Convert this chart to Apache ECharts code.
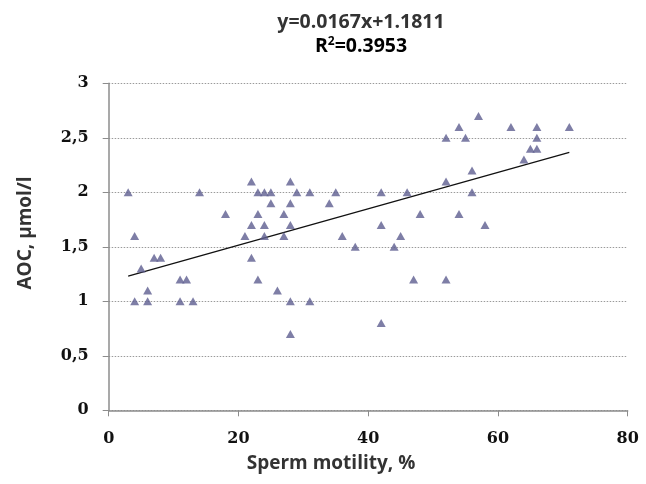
<!DOCTYPE html>
<html>
<head>
<meta charset="utf-8">
<script src="https://cdn.jsdelivr.net/npm/echarts@6/dist/echarts.min.js"></script>
<style>html,body{margin:0;padding:0;background:#fff}#c{width:646px;height:484px}</style>
</head>
<body>
<div id="c"></div>
<script>
// Sperm motility (%) values of each point
const motility = [3,4,4,5,6,6,7,8,11,12,11,13,14,18,21,22,22,22,23,23,23,24,24,24,25,25,26,27,27,28,28,28,28,28,29,31,31,34,35,36,38,42,42,42,44,45,46,47,48,52,52,52,54,54,55,56,56,57,58,62,64,65,66,66,66,71];
// AOC (µmol/l) values of each point
const aoc = [2,1.6,1,1.3,1.1,1,1.4,1.4,1.2,1.2,1,1,2,1.8,1.6,2.1,1.7,1.4,2,1.8,1.2,2,1.7,1.6,2,1.9,1.1,1.8,1.6,2.1,1.9,1.7,1,0.7,2,2,1,1.9,2,1.6,1.5,2,1.7,0.8,1.5,1.6,2,1.2,1.8,2.5,2.1,1.2,2.6,1.8,2.5,2.2,2,2.7,1.7,2.6,2.3,2.4,2.6,2.5,2.4,2.6];
// Linear trend line endpoints (y = 0.0167x + 1.1811)
const trendX = [3, 71];
const trendY = [1.2312, 2.3668];
const xTicks = [0, 20, 40, 60, 80];
const yTicks = [0, 0.5, 1, 1.5, 2, 2.5, 3];

const points = motility.map((x, i) => [x, aoc[i]]);
const trend = trendX.map((x, i) => [x, trendY[i]]);

const chart = echarts.init(document.getElementById('c'));
const tickFont = {fontFamily: 'DejaVu Serif', fontWeight: 'bold', fontSize: 16, color: '#111'};
chart.setOption({
  animation: false,
  backgroundColor: '#fff',
  grid: {left: 108.7, right: 18.3, top: 83.3, bottom: 73.7, containLabel: false},
  xAxis: {
    type: 'value', min: xTicks[0], max: xTicks[xTicks.length - 1], interval: 20,
    axisLine: {show: true, lineStyle: {color: '#8c8c8c', width: 1.5}},
    axisTick: {show: true, inside: false, length: 6, lineStyle: {color: '#8c8c8c'}},
    axisLabel: Object.assign({margin: 21}, tickFont),
    splitLine: {show: false}
  },
  yAxis: {
    type: 'value', min: yTicks[0], max: yTicks[yTicks.length - 1], interval: 0.5,
    axisLine: {show: true, lineStyle: {color: '#8c8c8c', width: 1.5}},
    axisTick: {show: true, inside: false, length: 6, lineStyle: {color: '#8c8c8c'}},
    axisLabel: Object.assign({margin: 20, formatter: v => String(v).replace('.', ',')}, tickFont),
    splitLine: {show: true, lineStyle: {color: '#9a9a9a', type: [1.5, 1.5], width: 1}}
  },
  series: [
    {type: 'scatter', data: points, symbol: 'triangle', symbolSize: [9, 8],
     itemStyle: {color: '#5e5e90'}, z: 3},
    {type: 'line', data: trend, symbol: 'none', lineStyle: {color: '#111', width: 1.3}, z: 2}
  ],
  graphic: [
    {type: 'text', x: 361, y: 22, style: {text: 'y=0.0167x+1.1811', textAlign: 'center', textVerticalAlign: 'middle',
      font: 'bold 19.5px "Open Sans"', fill: '#333'}},
    {type: 'text', x: 361, y: 46, style: {
      rich: {a: {font: 'bold 19.5px "Open Sans"', color: '#333'}, s: {font: 'bold 12px "Open Sans"', color: '#333', verticalAlign: 'top', padding: [0,0,8,0]}},
      text: '{a|R}{s|2}{a|=0.3953}', textAlign: 'center', textVerticalAlign: 'middle'}},
    {type: 'text', x: 331, y: 464, style: {text: 'Sperm motility, %', textAlign: 'center', textVerticalAlign: 'middle',
      font: 'bold 19px "Open Sans"', fill: '#333'}},
    {type: 'text', x: 26, y: 233, rotation: Math.PI / 2, style: {text: 'AOC, µmol/l', textAlign: 'center', textVerticalAlign: 'middle',
      font: 'bold 19px "Open Sans"', fill: '#333'}}
  ]
});
</script>
</body>
</html>
